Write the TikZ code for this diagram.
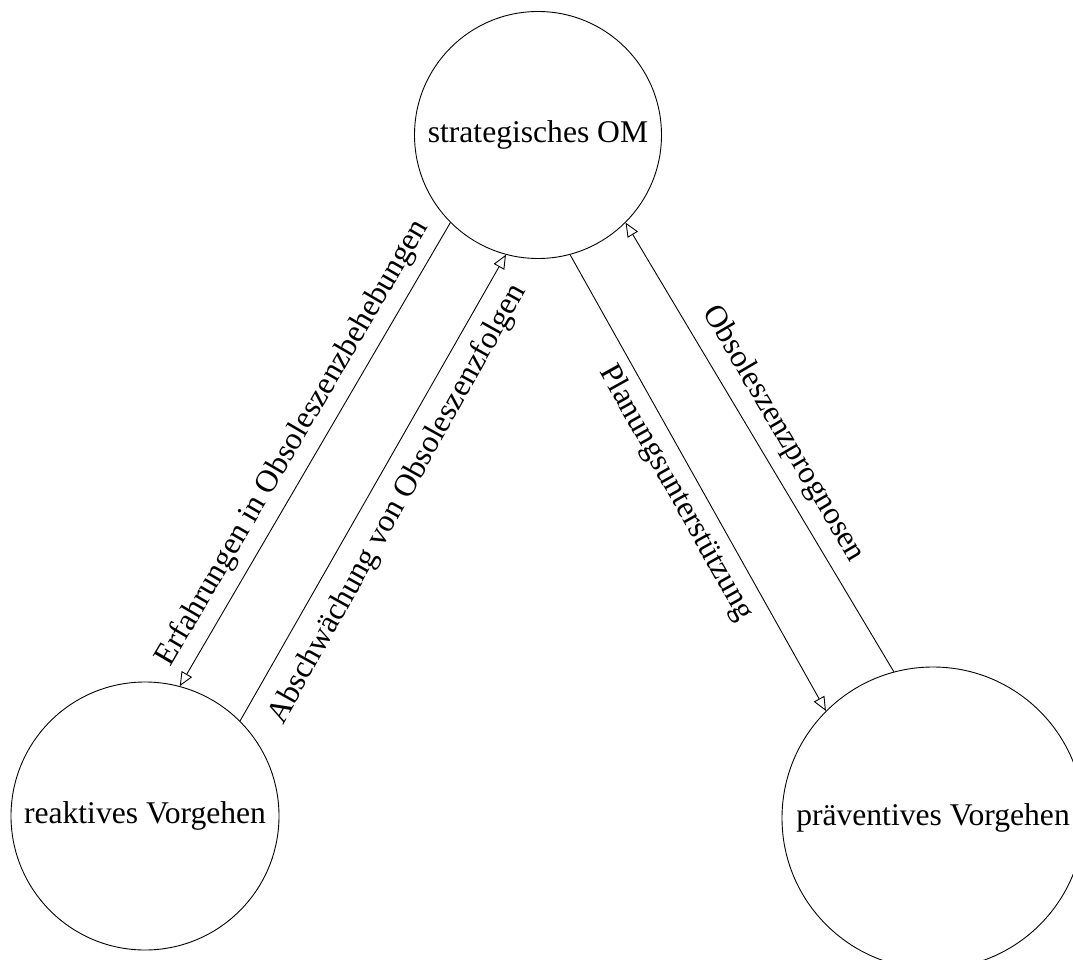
\documentclass[tikz,border=0pt]{standalone}
\usepackage{fontspec}
\setmainfont{Liberation Serif}
\usetikzlibrary{arrows.meta}
\begin{document}
\begin{tikzpicture}[x=1pt,y=-1pt,
  state/.style={circle,draw,line width=0.9pt,inner sep=0pt,
    font=\fontsize{31.6}{38}\selectfont},
  flow/.style={line width=0.9pt,
    -{Triangle[open,length=14pt,width=12pt,line width=0.9pt]}},
  lbl/.style={font=\fontsize{31.6}{38}\selectfont,inner sep=0pt}]
\useasboundingbox (0,0) rectangle (1073,960);
% the three kinds of obsolescence management
\node[state,minimum size=247pt] (om) at (538,135) {strategisches OM};
\node[state,minimum size=268pt] (re) at (145,816) {reaktives Vorgehen};
\node[state,minimum size=302pt] (pr) at (933,818) {präventives Vorgehen};
% information flows between them
\draw[flow] (om.225) -- (re.75);
\draw[flow] (re.45) -- (om.255);
\draw[flow] (om.285) -- (pr.135);
\draw[flow] (pr.105) -- (om.315);
% flow labels, set parallel to their lines
\node[lbl,rotate=59.7] (l1) at (293,443) {Erfahrungen in Obsoleszenzbehebungen};
\node[lbl,rotate=60.8] (l2) at (398,504) {Abschwächung von Obsoleszenzfolgen};
\node[lbl,rotate=-60.8] (l3) at (676,493) {Planungsunterstützung};
\node[lbl,rotate=-59.5] (l4) at (783,434) {Obsoleszenzprognosen};
\end{tikzpicture}
\end{document}
